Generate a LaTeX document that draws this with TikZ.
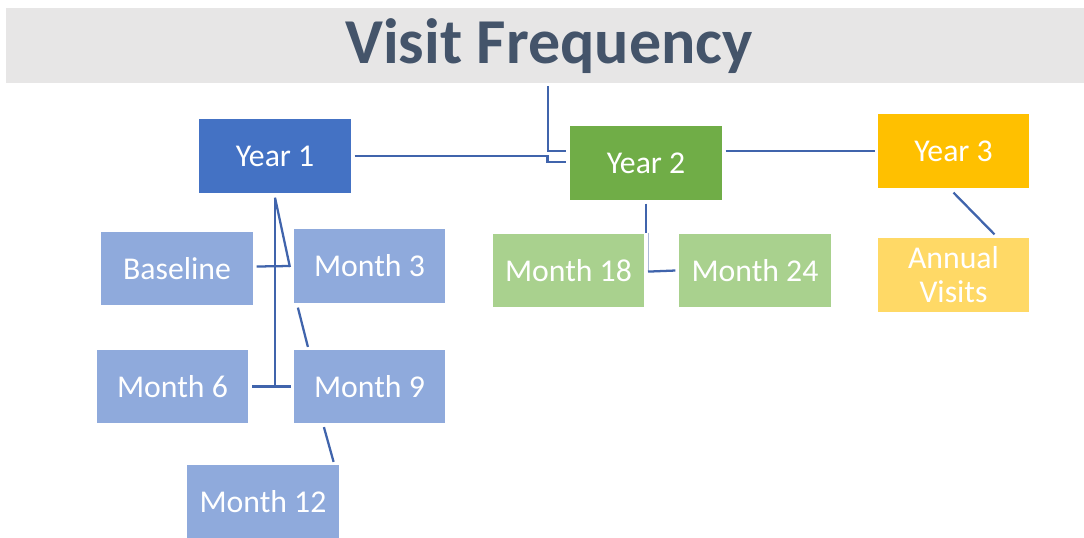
\documentclass[tikz,border=0pt]{standalone}
\usepackage{fontspec}
\setmainfont{Carlito}
\usetikzlibrary{calc,backgrounds}
\pgfdeclarelayer{bottom}
\pgfsetlayers{bottom,background,main}
\definecolor{bandgray}{HTML}{E7E6E6}
\definecolor{titleblue}{HTML}{44546A}
\definecolor{yblue}{HTML}{4472C4}
\definecolor{mblue}{HTML}{8FAADC}
\definecolor{ygreen}{HTML}{70AD47}
\definecolor{mgreen}{HTML}{A9D18E}
\definecolor{yyellow}{HTML}{FFC000}
\definecolor{myellow}{HTML}{FFD966}
\definecolor{connblue}{RGB}{64,100,172}
\definecolor{thinline}{RGB}{170,185,215}
\tikzset{
  box/.style={rectangle, draw=white, line width=0.5pt, inner sep=0pt,
    minimum width=114.4pt, minimum height=55.9pt, text=white,
    font=\fontsize{23.8}{25.5}\selectfont, align=center},
  conn/.style={draw=connblue, line width=1.7pt},
  thinconn/.style={draw=thinline, line width=0.6pt}
}
\begin{document}
\begin{tikzpicture}[x=0.75pt,y=-0.75pt]
\useasboundingbox (0,0) rectangle (1084,537);
\begin{pgfonlayer}{bottom}
\fill[white] (0,0) rectangle (1084,537);
\fill[bandgray] (6,8) rectangle (1084,83);
\end{pgfonlayer}
\node[anchor=base, text=titleblue, font=\fontsize{48}{52}\selectfont\bfseries] (title) at (549,63) {Visit Frequency};

\node[box, fill=yblue] (y1) at (275,156) {Year 1};
\node[box, fill=mblue] (bl) at (177,268.5) {Baseline};
\node[box, fill=mblue] (m3) at (369.5,266) {Month 3};
\node[box, fill=mblue] (m6) at (172.5,386.5) {Month 6};
\node[box, fill=mblue] (m9) at (369.5,386.5) {Month 9};
\node[box, fill=mblue] (m12) at (263,501.5) {Month 12};
\node[box, fill=ygreen] (y2) at (646,163) {Year 2};
\node[box, fill=mgreen] (m18) at (568.5,270.5) {Month 18};
\node[box, fill=mgreen] (m24) at (755,270.5) {Month 24};
\node[box, fill=yyellow] (y3) at (953.5,151) {Year 3};
\node[box, fill=myellow] (av) at (953.5,275) {Annual\\Visits};

\coordinate (t) at (548,86);

\begin{scope}[on background layer]
% title to Year 2
\draw[conn] (t) |- ($(y2.west)+(-3,-12)$);
% Year 1 to Year 2
\draw[conn] ($(y1.east)+(3,0)$) -- ++(193,0) -- ++(0,6) -- ($(y2.west)+(-3,-1)$);
% Year 2 to Year 3
\draw[conn] ($(y2.east)+(3,-12)$) -- ($(y3.west)+(-2,0)$);
% Year 3 to Annual Visits
\draw[conn] ($(y3.south)+(0,4)$) -- ($(av.north)+(41,-3)$);
% Year 2 to Month 18 / Month 24
\draw[conn] ($(y2.south)+(0,3)$) -- ++(0,29) coordinate (y2b);
\draw[thinconn] ($(y2b)+(2,0)$) -- ++(0,39) coordinate (y2c);
\draw[conn] (y2c) -- ($(m24.west)+(-3,0)$);
% Year 1 tree
\draw[conn] ($(y1.south)+(0,4)$) -- ++(0,189);
\draw[conn] ($(y1.south)+(0,4)$) -- ($(m3.west)+(-3,1)$);
\draw[conn] ($(bl.east)+(3,-2)$) -- ($(m3.west)+(-3,0)$);
\draw[conn] ($(m6.east)+(3,0)$) -- ($(m9.west)+(-2,0)$);
\draw[conn] ($(m3.south west)+(5,4)$) -- ($(m9.north west)+(15,-2)$);
\draw[conn] ($(m9.south west)+(31,3)$) -- ($(m12.north east)+(-6,-2)$);
\end{scope}
\end{tikzpicture}
\end{document}
